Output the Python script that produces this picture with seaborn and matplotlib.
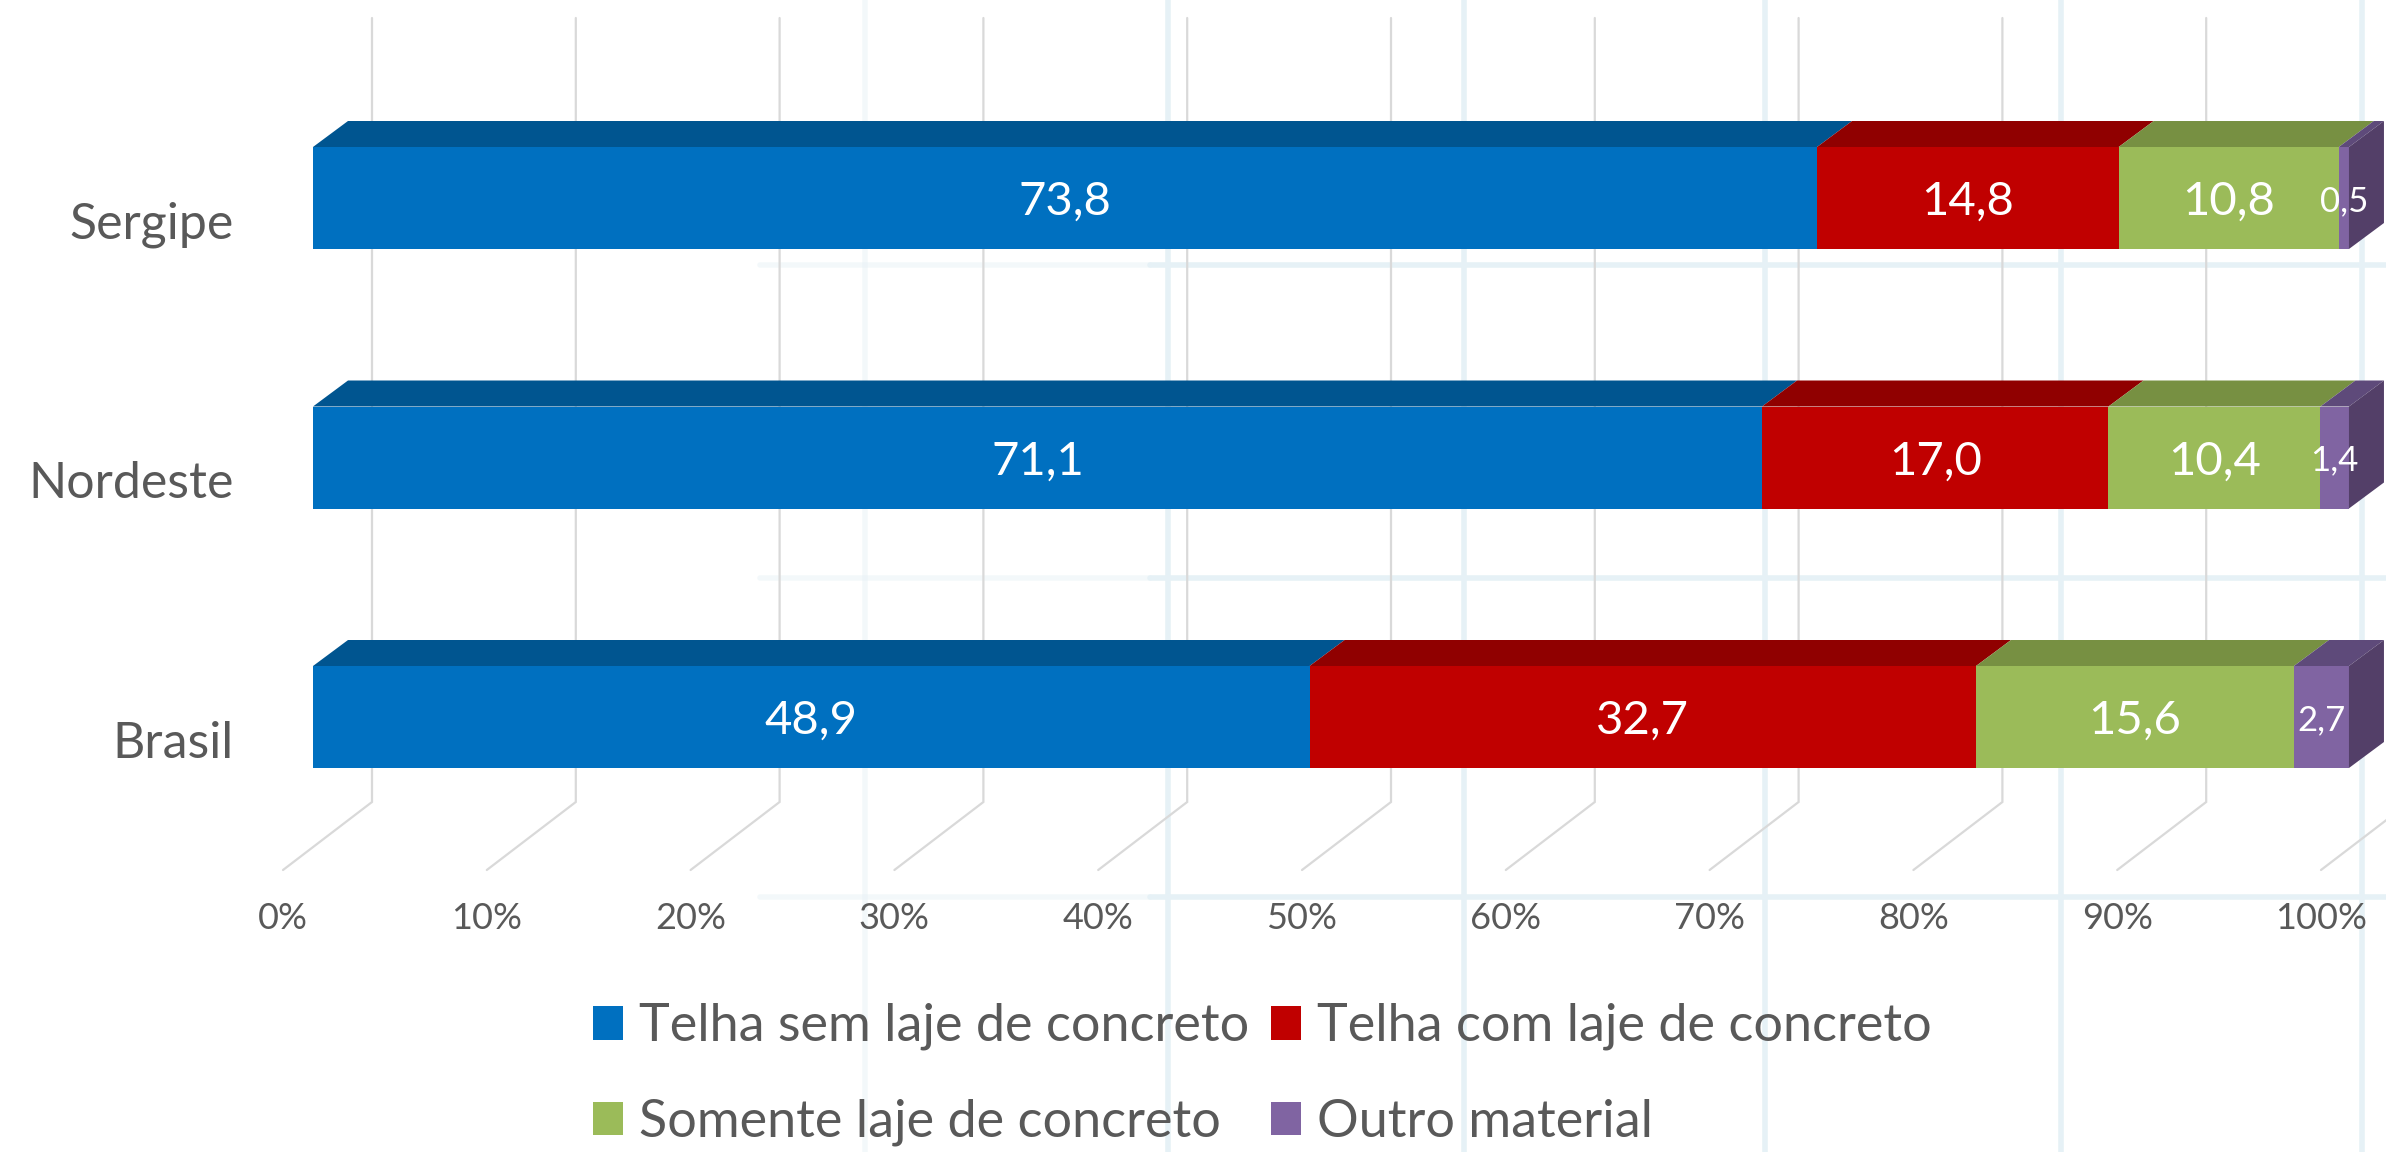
import matplotlib
matplotlib.use("Agg")
import matplotlib.pyplot as plt
import matplotlib.transforms as mtransforms
from matplotlib.patches import Polygon, Patch
from matplotlib.lines import Line2D
import pandas as pd
import seaborn as sns

# dados: tipo de material da cobertura dos domicílios (%)
regioes = ["Sergipe", "Nordeste", "Brasil"]
series = ["Telha sem laje de concreto", "Telha com laje de concreto",
          "Somente laje de concreto", "Outro material"]
telha_sem_laje = [73.8, 71.1, 48.9]
telha_com_laje = [14.8, 17.0, 32.7]
somente_laje = [10.8, 10.4, 15.6]
outro_material = [0.5, 1.4, 2.7]
ticks_pct = [0, 10, 20, 30, 40, 50, 60, 70, 80, 90, 100]

cores = ["#0070C0", "#C00000", "#9BBB59", "#8064A2"]
cores_topo = ["#005590", "#900000", "#779042", "#5E4A7A"]
cor_lado = "#533F68"
cor_grade = "#D9D9D9"
cor_texto = "#595959"

df = pd.DataFrame({
    "regiao": regioes,
    series[0]: telha_sem_laje,
    series[1]: telha_com_laje,
    series[2]: somente_laje,
    series[3]: outro_material,
})
acum = df[series].cumsum(axis=1)

sns.set_theme(style="white")
plt.rcParams["font.family"] = ["Lato", "DejaVu Sans"]

# geometria em pixels da figura (efeito 3D estilo Excel)
W, H, DPI = 2386, 1152, 100
X0_PX, PX_X = 313, 20.38
Y0_PX, PX_Y = 198, 259.5
AX_L, AX_B = 250, 880
LARG = 102 / PX_Y
prof_dx, prof_dy = 35 / PX_X, 26 / PX_Y
parede_dx, frente_dx = 59 / PX_X, -30 / PX_X
grade_topo = (18 - Y0_PX) / PX_Y
piso_fundo = (802 - Y0_PX) / PX_Y
piso_frente = (870 - Y0_PX) / PX_Y

fig = plt.figure(figsize=(W / DPI, H / DPI), dpi=DPI)
ax = fig.add_axes([AX_L / W, 1 - AX_B / H, 1 - AX_L / W, AX_B / H])
ax.set_facecolor("none")

# linhas de fundo da planilha
for xp in [865, 1168, 1464, 1765, 2061, 2362]:
    fig.add_artist(Line2D([xp / W, xp / W], [0, 1], transform=fig.transFigure,
                          color="#E6F1F6", lw=4, alpha=0.45 if xp < 1000 else 1, zorder=-1))
for yp in [265, 578, 897]:
    fig.add_artist(Line2D([760 / W, 1150 / W], [1 - yp / H, 1 - yp / H], transform=fig.transFigure,
                          color="#E6F1F6", lw=4, alpha=0.45, zorder=-1))
    fig.add_artist(Line2D([1150 / W, 1], [1 - yp / H, 1 - yp / H], transform=fig.transFigure,
                          color="#E6F1F6", lw=4, zorder=-1))

# grade: parede do fundo + piso
for v in ticks_pct:
    ax.plot([v + parede_dx, v + parede_dx, v + frente_dx],
            [grade_topo, piso_fundo, piso_frente],
            color=cor_grade, lw=1.6, zorder=1, solid_joinstyle="miter")

# barras empilhadas (somas acumuladas sobrepostas)
for i in reversed(range(len(series))):
    sns.barplot(x=acum[series[i]], y=df["regiao"], order=regioes, orient="h",
                color=cores[i], saturation=1, width=LARG, linewidth=0,
                ax=ax, zorder=3)

# faces superiores e lateral
for r in range(len(regioes)):
    yt = r - LARG / 2
    yb = r + LARG / 2
    esq = 0
    for i, s in enumerate(series):
        v = df.loc[r, s]
        dir_ = esq + v
        ax.add_patch(Polygon([(esq, yt), (dir_, yt), (dir_ + prof_dx, yt - prof_dy),
                              (esq + prof_dx, yt - prof_dy)],
                             closed=True, facecolor=cores_topo[i], edgecolor="none", zorder=3))
        ax.text(esq + v / 2, r, f"{v:.1f}".replace(".", ","), ha="center", va="center_baseline",
                color="white", fontsize=34 if v >= 5 else 25, zorder=5)
        esq = dir_
    ax.add_patch(Polygon([(esq, yt), (esq + prof_dx, yt - prof_dy),
                          (esq + prof_dx, yb - prof_dy), (esq, yb)],
                         closed=True, facecolor=cor_lado, edgecolor="none", zorder=3))

ax.set_xlim((AX_L - X0_PX) / PX_X, (W - X0_PX) / PX_X)
ax.set_ylim((AX_B - Y0_PX) / PX_Y, -Y0_PX / PX_Y)
ax.set_xlabel("")
ax.set_ylabel("")
ax.set_xticks([v + frente_dx for v in ticks_pct], [f"{v}%" for v in ticks_pct])
ax.set_yticks(range(len(regioes)), regioes)
ax.tick_params(axis="x", length=0, pad=16, labelsize=26, labelcolor=cor_texto)
ax.tick_params(axis="y", length=0, pad=12, labelsize=36, labelcolor=cor_texto)
desloc = mtransforms.ScaledTranslation(0, -0.22, fig.dpi_scale_trans)
for lab in ax.get_yticklabels():
    lab.set_transform(lab.get_transform() + desloc)
for sp in ax.spines.values():
    sp.set_visible(False)

# legenda
ordem = [0, 2, 1, 3]
alcas = [Patch(facecolor=cores[k], edgecolor="none") for k in ordem]
fig.legend(alcas, [series[k] for k in ordem], ncol=2, loc="upper left",
           bbox_to_anchor=(593 / W, 1 - 1003 / H), frameon=False, fontsize=37.5,
           handlelength=0.58, handleheight=0.62, handletextpad=0.3,
           columnspacing=0.42, labelspacing=0.93, borderpad=0, borderaxespad=0,
           labelcolor=cor_texto)

fig.savefig("out.png", dpi=DPI)
